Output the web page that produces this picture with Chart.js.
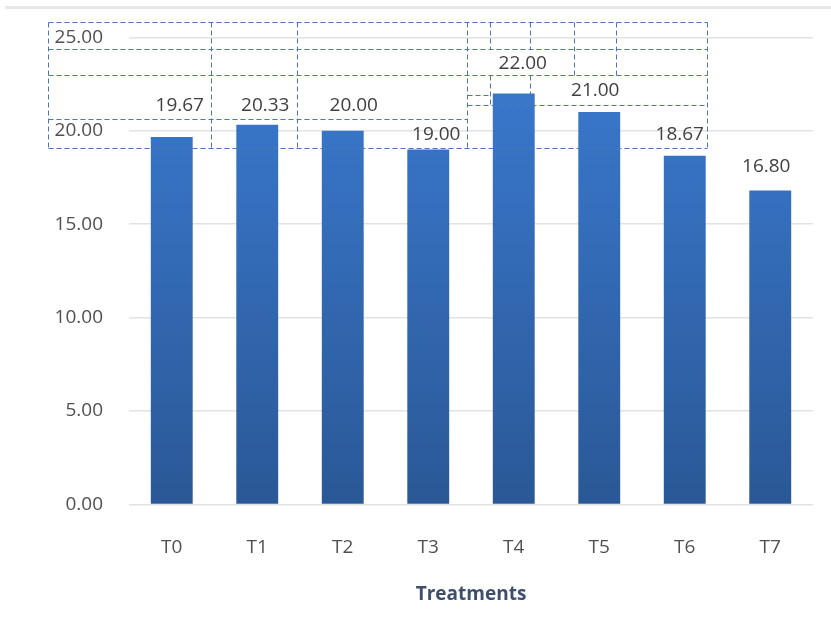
<!DOCTYPE html>
<html>
<head>
<meta charset="utf-8">
<script src="https://cdn.jsdelivr.net/npm/chart.js@4"></script>
<style>
  body { margin: 0; background: #fff; }
  #wrap { position: relative; width: 831px; height: 634px; }
  #topline { position: absolute; left: 5px; right: 0; top: 6px; height: 3px; background: #e8e8e8; }
</style>
</head>
<body>
<div id="wrap">
  <div id="topline"></div>
  <canvas id="barChart"></canvas>
</div>
<script>
const treatments = ['T0', 'T1', 'T2', 'T3', 'T4', 'T5', 'T6', 'T7'];
const meanValues = [19.67, 20.33, 20.00, 19.00, 22.00, 21.00, 18.67, 16.80];
const yTicks = [0, 5, 10, 15, 20, 25];

// hand nudges (px) for the value labels, they sit a bit off in the original
const labelShiftX = [8, 8, 11, 8, 9, -4, -5, -4];
const labelShiftY = [-31, -19, -25, -15, -30, -22, -21, -24];

// dashed text-box outlines left over in the original, in axis units (x = category index, y = value)
const boxLines = [
    [-1.45, 25.8, 6.26, 25.8], [-1.45, 19.1, 6.26, 19.1],
    [-1.45, 24.4, 6.26, 24.4], [-1.45, 23.0, 6.26, 23.0],
    [-1.45, 20.65, 3.45, 20.65], [3.45, 21.4, 6.26, 21.4], [3.45, 21.9, 3.72, 21.9],
    [-1.45, 25.8, -1.45, 19.1], [6.26, 25.8, 6.26, 19.1],
    [0.456, 25.8, 0.456, 19.1], [1.46, 25.8, 1.46, 19.1], [3.45, 25.8, 3.45, 19.1],
    [3.72, 25.8, 3.72, 24.4], [3.72, 23.0, 3.72, 21.4],
    [4.19, 25.8, 4.19, 24.4], [4.19, 23.0, 4.19, 21.4],
    [4.71, 25.8, 4.71, 23.0], [5.20, 25.8, 5.20, 23.0]
];

const valueLabels = {
    id: 'valueLabels',
    afterDatasetsDraw(chart) {
        const c = chart.ctx;
        const meta = chart.getDatasetMeta(0);
        c.save();
        c.font = '19px "Open Sans"';
        c.fillStyle = '#404040';
        c.textAlign = 'center';
        c.textBaseline = 'middle';
        meta.data.forEach((bar, i) => {
            c.fillText(meanValues[i].toFixed(2), bar.x + labelShiftX[i], bar.y + labelShiftY[i]);
        });
        c.restore();
    }
};

const dashedBoxes = {
    id: 'dashedBoxes',
    afterDraw(chart) {
        const c = chart.ctx;
        const xs = chart.scales.x, ys = chart.scales.y;
        c.save();
        c.strokeStyle = '#4d74bd';
        c.lineWidth = 1;
        c.setLineDash([5, 3]);
        boxLines.forEach(l => {
            c.beginPath();
            c.moveTo(Math.round(xs.getPixelForValue(l[0])) + 0.5, Math.round(ys.getPixelForValue(l[1])) + 0.5);
            c.lineTo(Math.round(xs.getPixelForValue(l[2])) + 0.5, Math.round(ys.getPixelForValue(l[3])) + 0.5);
            c.stroke();
        });
        c.restore();
    }
};

let ctx = document.getElementById('barChart').getContext('2d');
let barChart = new Chart(ctx, {
    type: 'bar',
    data: {
        labels: treatments,
        datasets: [{
            data: meanValues,
            backgroundColor: (context) => {
                const area = context.chart.chartArea;
                if (!area) return '#3470c0';
                const g = context.chart.ctx.createLinearGradient(0, area.top, 0, area.bottom);
                g.addColorStop(0, '#3b7bd2');
                g.addColorStop(1, '#2a5896');
                return g;
            },
            borderWidth: 0,
            categoryPercentage: 1,
            barPercentage: 0.49
        }]
    },
    options: {
        responsive: true,
        maintainAspectRatio: false,
        animation: false,
        layout: { padding: { top: 31, right: 18, bottom: 24, left: 0 } },
        plugins: { legend: { display: false }, tooltip: { enabled: false } },
        scales: {
            x: {
                grid: { display: false },
                border: { display: false },
                ticks: { color: '#505050', font: { family: 'Open Sans', size: 19 }, padding: 24 },
                title: { display: true, text: 'Treatments', color: '#3f4e6c',
                         font: { family: 'Open Sans', size: 19, weight: 'bold' }, padding: { top: 0 } }
            },
            y: {
                min: 0, max: 25,
                afterFit: (scale) => { scale.width = 129; },
                afterBuildTicks: (scale) => { scale.ticks = yTicks.map(v => ({ value: v })); },
                grid: { color: '#e2e2e2', lineWidth: 1.5, drawTicks: false },
                border: { display: false },
                ticks: { color: '#505050', font: { family: 'Open Sans', size: 19 }, padding: 26,
                         callback: (v) => Number(v).toFixed(2) }
            }
        }
    },
    plugins: [valueLabels, dashedBoxes]
});
</script>
</body>
</html>
